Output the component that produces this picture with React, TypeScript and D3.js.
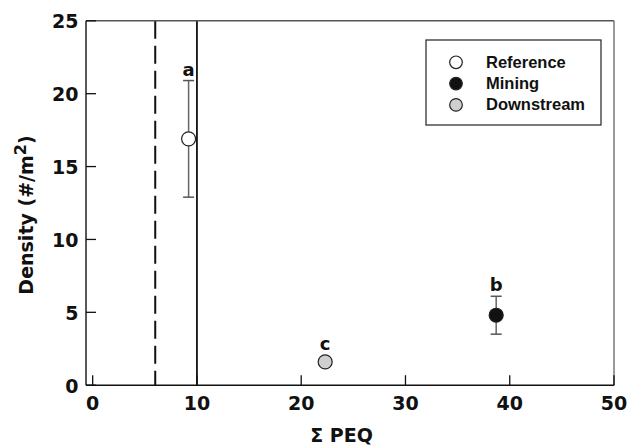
import React from "react";
import * as d3 from "d3";

const groups = ["Reference", "Mining", "Downstream"];
const peq = [9.2, 38.7, 22.3];
const density = [16.9, 4.8, 1.6];
const errLow = [12.9, 3.5, 1.4];
const errHigh = [20.9, 6.1, 1.8];
const letters = ["a", "b", "c"];
const fills = ["#ffffff", "#111111", "#cfcfcf"];
const xTicks = [0, 10, 20, 30, 40, 50];
const yTicks = [0, 5, 10, 15, 20, 25];
const dashedThreshold = 6;
const solidThreshold = 10;

const W = 629;
const H = 446;
const L = 86, R = 614, T = 20.8, B = 385.2;
const axisFont = "'DejaVu Sans', sans-serif";
const legendFont = "'Liberation Sans', Arial, sans-serif";

export default function App() {
  const x = d3.scaleLinear().domain([-0.64, 50]).range([L, R]);
  const y = d3.scaleLinear().domain([0, 25]).range([B, T]);
  const r = 7;
  const cap = 5.5;
  return (
    <svg width={W} height={H} style={{ position: "absolute", left: 0, top: 0 }}>
      <rect x={0} y={0} width={W} height={H} fill="#fff" />
      {/* threshold lines */}
      <line x1={x(dashedThreshold)} x2={x(dashedThreshold)} y1={T} y2={B} stroke="#111" strokeWidth={2} strokeDasharray="18,7" />
      <line x1={x(solidThreshold)} x2={x(solidThreshold)} y1={T} y2={B} stroke="#111" strokeWidth={1.8} />
      {/* frame */}
      <line x1={L} x2={R} y1={T} y2={T} stroke="#555" strokeWidth={1.5} />
      <line x1={R} x2={R} y1={T} y2={B} stroke="#777" strokeWidth={1.5} />
      <line x1={L} x2={L} y1={T} y2={B} stroke="#222" strokeWidth={1.5} />
      <line x1={L} x2={R} y1={B} y2={B} stroke="#111" strokeWidth={1.5} />
      {/* ticks */}
      {xTicks.map((t) => (
        <g key={"xt" + t}>
          <line x1={x(t)} x2={x(t)} y1={B} y2={B - 10} stroke="#111" strokeWidth={1.3} />
          <text x={x(t)} y={410} textAnchor="middle" fontFamily={axisFont} fontWeight="bold" fontSize={19} fill="#111">{t}</text>
        </g>
      ))}
      {yTicks.map((t) => (
        <g key={"yt" + t}>
          <line x1={L} x2={L + 10} y1={y(t)} y2={y(t)} stroke="#111" strokeWidth={1.3} />
          <text x={78.5} y={y(t) + 7.5} textAnchor="end" fontFamily={axisFont} fontWeight="bold" fontSize={19} fill="#111">{t}</text>
        </g>
      ))}
      {/* axis titles */}
      <text x={341.5} y={441.5} textAnchor="middle" fontFamily={axisFont} fontWeight="bold" fontSize={19} fill="#111">Σ PEQ</text>
      <text transform="translate(32.5,215) rotate(-90)" textAnchor="middle" fontFamily={axisFont} fontWeight="bold" fontSize={19} fill="#111">
        Density (#/m<tspan fontSize={16} dy={-7}>2</tspan><tspan dy={7}>)</tspan>
      </text>
      {/* error bars and points */}
      {groups.map((g, i) => {
        const cx = x(peq[i]);
        const cy = y(density[i]);
        const yl = y(errLow[i]);
        const yh = y(errHigh[i]);
        const labelY = Math.min(yh, cy - r) - 5;
        return (
          <g key={g}>
            <line x1={cx} x2={cx} y1={yl} y2={yh} stroke="#666" strokeWidth={1.5} />
            <line x1={cx - cap} x2={cx + cap} y1={yl} y2={yl} stroke="#555" strokeWidth={1.5} />
            <line x1={cx - cap} x2={cx + cap} y1={yh} y2={yh} stroke="#555" strokeWidth={1.5} />
            <circle cx={cx} cy={cy} r={r} fill={fills[i]} stroke="#222" strokeWidth={1.2} />
            <text x={cx} y={labelY} textAnchor="middle" fontFamily={axisFont} fontWeight="bold" fontSize={18} fill="#111">{letters[i]}</text>
          </g>
        );
      })}
      {/* legend */}
      <rect x={426} y={40} width={175} height={85} fill="#fff" stroke="#222" strokeWidth={1.2} />
      {groups.map((g, i) => {
        const ly = 62.3 + i * 21.3;
        return (
          <g key={"lg" + g}>
            <circle cx={456} cy={ly} r={6.3} fill={fills[i]} stroke="#222" strokeWidth={1.2} />
            <text x={486} y={ly + 5.5} fontFamily={legendFont} fontWeight="bold" fontSize={16.5} fill="#111">{g}</text>
          </g>
        );
      })}
    </svg>
  );
}
